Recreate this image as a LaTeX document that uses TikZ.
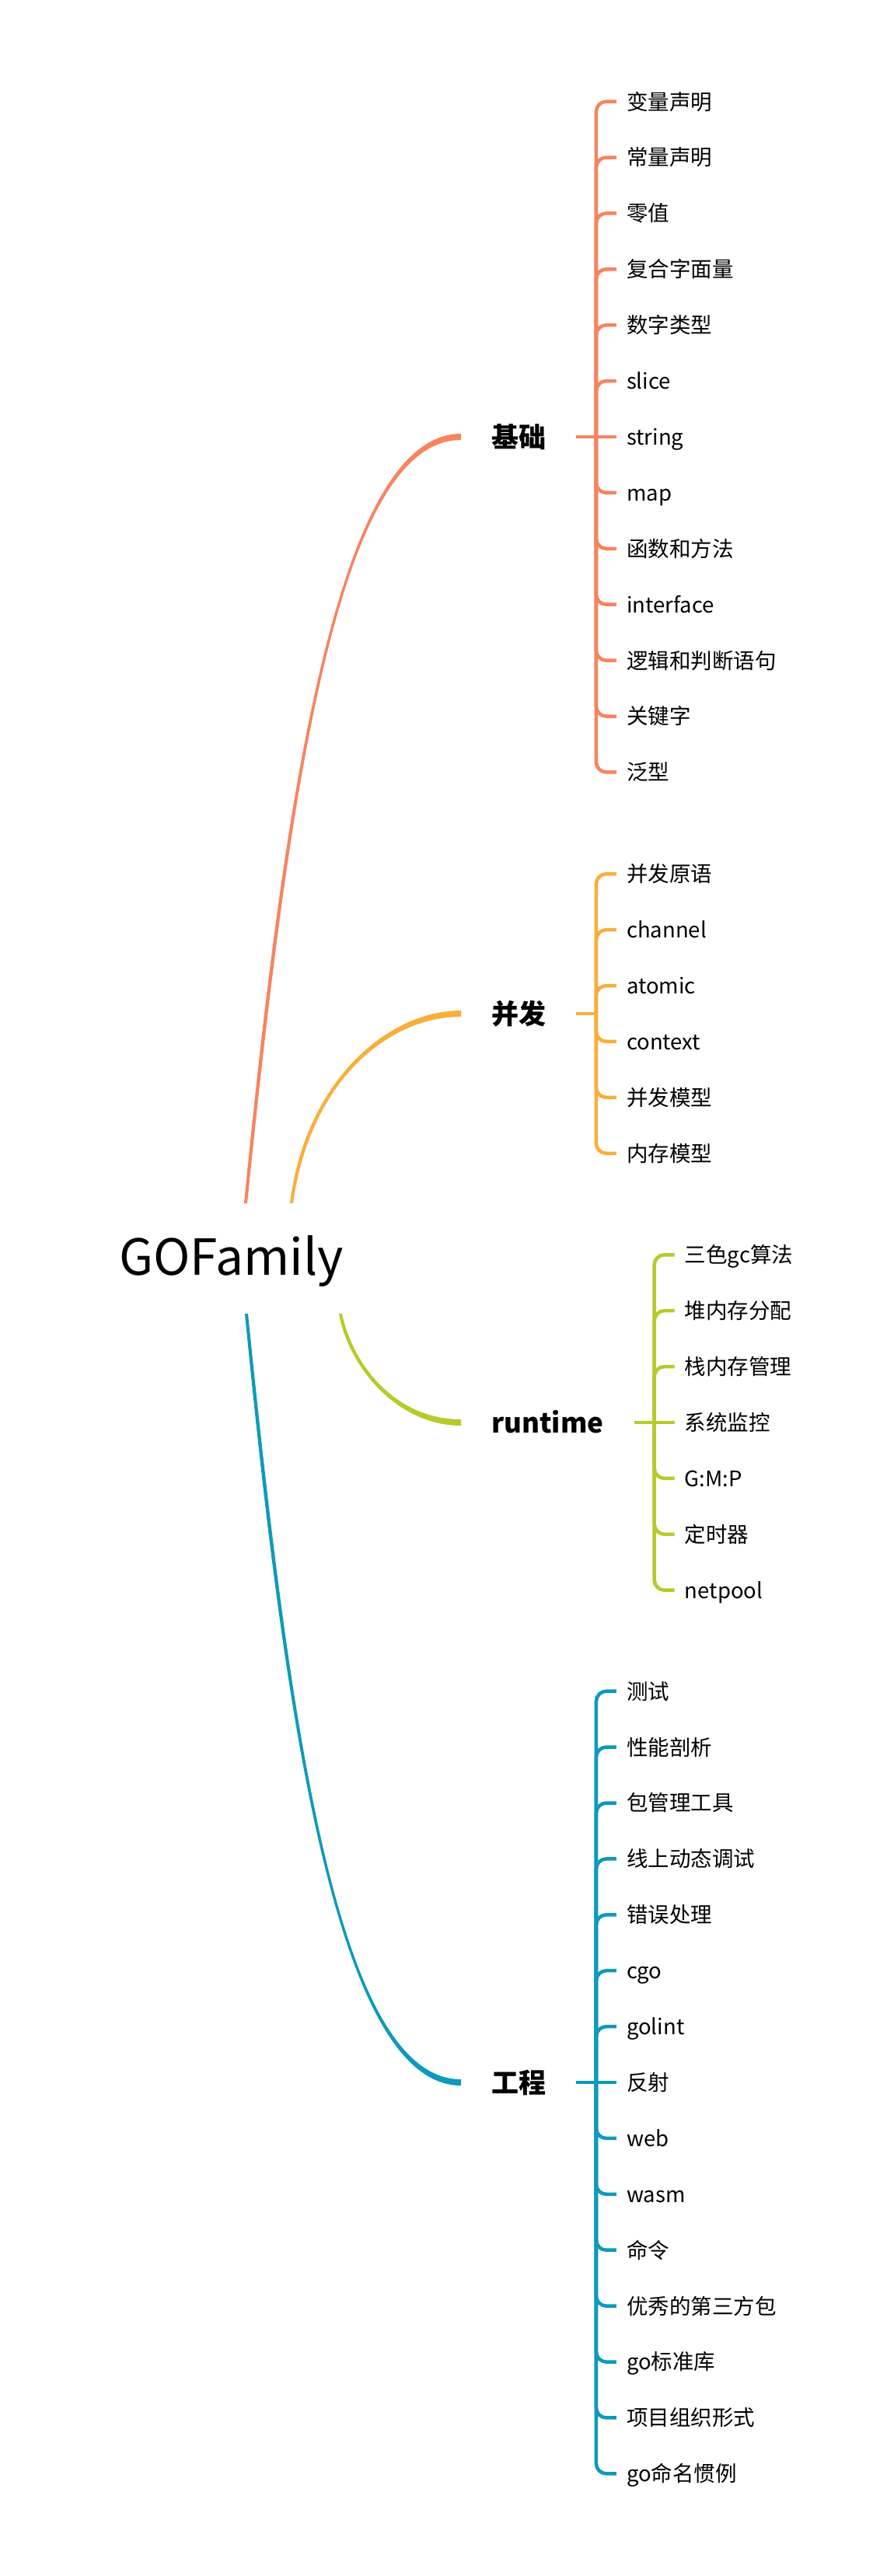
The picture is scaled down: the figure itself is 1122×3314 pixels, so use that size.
\documentclass[tikz,border=0pt]{standalone}
\usepackage{fontspec}
\setmainfont{Noto Sans CJK SC}
\usetikzlibrary{calc}
\definecolor{cOrange}{HTML}{F7845E}
\definecolor{cYellow}{HTML}{FBAD3A}
\definecolor{cGreen}{HTML}{B8C92B}
\definecolor{cBlue}{HTML}{0D9ABB}
% tapered branch: #1 start, #2 ctrl1, #3 ctrl2, #4 end, #5 colour, #6 +1 upward / -1 downward
\newcommand\brcurve[6]{%
  \fill[#5] ($(#1)+(-2*#6,0)$) .. controls ($(#2)+(-3*#6,0)$) and ($(#3)+(0,-4)$) .. ($(#4)+(0,-4)$)
     -- ($(#4)+(0,4)$) .. controls ($(#3)+(0,4)$) and ($(#2)+(3*#6,0)$) .. ($(#1)+(2*#6,0)$) -- cycle;}
\begin{document}
\begin{tikzpicture}[x=1pt,y=-1pt,
  rootnode/.style={inner sep=0pt, minimum height=142pt, text height=42pt, text depth=0pt,
     font=\fontsize{64}{70}\selectfont, text=black},
  topic/.style={anchor=west, inner xsep=39pt, inner ysep=0pt, text height=30.8pt, text depth=4.2pt,
     font=\fontsize{35}{40}\selectfont\bfseries, text=black},
  leaf/.style={anchor=west, inner xsep=13pt, inner ysep=0pt, text height=24.2pt, text depth=3.3pt,
     font=\fontsize{27.5}{30}\selectfont, text=black},
  bline/.style={line width=4.5pt, rounded corners=13pt},
  stub/.style={line width=4.5pt},
]
\fill[white] (0,0) rectangle (1122,3314);
\useasboundingbox (0,0) rectangle (1122,3314);

% root
\node[rootnode] (root) at (297.5,1619) {GOFamily};

% main topics
\node[topic] (t1) at (593,562) {基础};
\node[topic] (t2) at (593,1304) {并发};
\node[topic] (t3) at (593,1830) {runtime};
\node[topic] (t4) at (593,2679) {工程};

% branch start points and control points
\coordinate (s1) at ($(root.north)+(18.5,0)$);
\coordinate (s2) at ($(root.north)+(77.5,0)$);
\coordinate (s3) at ($(root.south)+(140.5,0)$);
\coordinate (s4) at ($(root.south)+(19.5,0)$);
\coordinate (k1a) at ($(s1)+(50,-498)$);
\coordinate (k1b) at ($(t1.west)+(-163,0)$);
\coordinate (k2a) at ($(s2)+(21,-158)$);
\coordinate (k2b) at ($(t2.west)+(-93,0)$);
\coordinate (k3a) at ($(s3)+(14,70)$);
\coordinate (k3b) at ($(t3.west)+(-81,0)$);
\coordinate (k4a) at ($(s4)+(50,500)$);
\coordinate (k4b) at ($(t4.west)+(-163,0)$);

\brcurve{s1}{k1a}{k1b}{t1.west}{cOrange}{1}
\brcurve{s2}{k2a}{k2b}{t2.west}{cYellow}{1}
\brcurve{s3}{k3a}{k3b}{t3.west}{cGreen}{-1}
\brcurve{s4}{k4a}{k4b}{t4.west}{cBlue}{-1}

% hubs
\coordinate (h1) at ($(t1.east)+(25.5,0)$);
\coordinate (h2) at ($(t2.east)+(25.5,0)$);
\coordinate (h3) at ($(t3.east)+(26,0)$);
\coordinate (h4) at ($(t4.east)+(25.5,0)$);
\draw[stub,cOrange] (t1.east) -- (h1);
\draw[stub,cYellow] (t2.east) -- (h2);
\draw[stub,cGreen] (t3.east) -- (h3);
\draw[stub,cBlue] (t4.east) -- (h4);

% leaves of 基础
\foreach \t [count=\i from 0] in {变量声明,常量声明,零值,复合字面量,数字类型,slice,string,map,函数和方法,interface,逻辑和判断语句,关键字,泛型}{
  \node[leaf] (a\i) at ($(h1)+(26,{(\i-6)*71.9})$) {\t};
  \ifnum\i=6 \draw[stub,cOrange] (h1) -- (a\i.west);
  \else \draw[bline,cOrange] (h1) |- (a\i.west); \fi
}
% leaves of 并发
\foreach \t [count=\i from 0] in {并发原语,channel,atomic,context,并发模型,内存模型}{
  \node[leaf] (b\i) at ($(h2)+(26,{(\i-2.5)*71.9})$) {\t};
  \draw[bline,cYellow] (h2) |- (b\i.west);
}
% leaves of runtime
\foreach \t [count=\i from 0] in {三色gc算法,堆内存分配,栈内存管理,系统监控,G:M:P,定时器,netpool}{
  \node[leaf] (c\i) at ($(h3)+(26,{(\i-3)*71.9})$) {\t};
  \ifnum\i=3 \draw[stub,cGreen] (h3) -- (c\i.west);
  \else \draw[bline,cGreen] (h3) |- (c\i.west); \fi
}
% leaves of 工程
\foreach \t [count=\i from 0] in {测试,性能剖析,包管理工具,线上动态调试,错误处理,cgo,golint,反射,web,wasm,命令,优秀的第三方包,go标准库,项目组织形式,go命名惯例}{
  \node[leaf] (d\i) at ($(h4)+(26,{(\i-7)*71.9})$) {\t};
  \ifnum\i=7 \draw[stub,cBlue] (h4) -- (d\i.west);
  \else \draw[bline,cBlue] (h4) |- (d\i.west); \fi
}
\end{tikzpicture}
\end{document}
